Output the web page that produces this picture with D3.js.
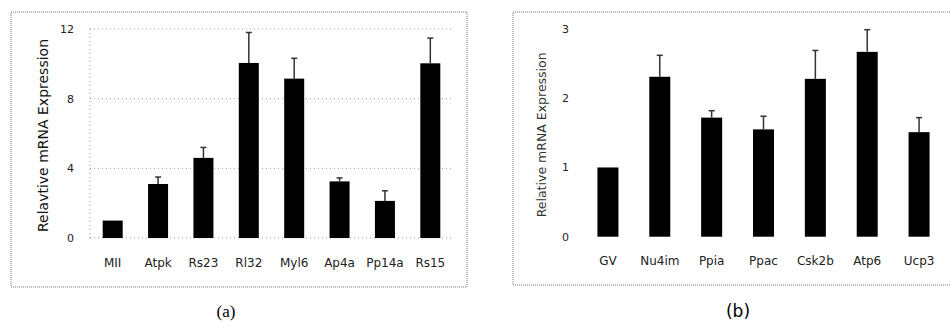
<!DOCTYPE html>
<html>
<head>
<meta charset="utf-8">
<script src="https://cdn.jsdelivr.net/npm/d3@7"></script>
<style>
  body { margin: 0; background: white; }
  svg { display: block; }
</style>
</head>
<body>
<script>
/*** Data ***/

// panel (a)
let genesA = ['MII', 'Atpk', 'Rs23', 'Rl32', 'Myl6', 'Ap4a', 'Pp14a', 'Rs15']
let meanA = [1.0, 3.1, 4.6, 10.05, 9.15, 3.25, 2.13, 10.03]
let errA = [0, 0.4, 0.6, 1.75, 1.17, 0.2, 0.58, 1.45]
let ticksA = [0, 4, 8, 12]

// panel (b)
let genesB = ['GV', 'Nu4im', 'Ppia', 'Ppac', 'Csk2b', 'Atp6', 'Ucp3']
let meanB = [1.0, 2.31, 1.72, 1.55, 2.28, 2.67, 1.51]
let errB = [0, 0.31, 0.1, 0.19, 0.41, 0.32, 0.21]
let ticksB = [0, 1, 2, 3]

const svgWidth = 951
const svgHeight = 324

let svg = d3.select('body')
    .append('svg')
    .attr('width', svgWidth)
    .attr('height', svgHeight)

const sans = "'DejaVu Sans', sans-serif"

function drawPanel(opt) {
    let rows = opt.genes.map((g, i) => ({gene: g, mean: opt.mean[i], err: opt.err[i]}))

    // dotted outer frame
    svg.append('rect')
        .attr('x', opt.frame[0]).attr('y', opt.frame[1])
        .attr('width', opt.frame[2]).attr('height', opt.frame[3])
        .attr('fill', 'none')
        .attr('stroke', '#777')
        .attr('stroke-width', 1)
        .attr('stroke-dasharray', '1,1')

    let yScale = d3.scaleLinear()
        .domain([0, opt.max])
        .range([opt.bottom, opt.top])

    let xScale = d3.scaleBand()
        .domain(opt.genes)
        .range([opt.left, opt.right])

    // gridlines
    if (opt.grid) {
        svg.append('g')
            .selectAll('line')
            .data(opt.ticks.filter(t => t > 0))
            .enter()
            .append('line')
            .attr('x1', opt.left).attr('x2', opt.right)
            .attr('y1', d => yScale(d)).attr('y2', d => yScale(d))
            .attr('stroke', '#999')
            .attr('stroke-dasharray', '1,3')
        svg.append('line')
            .attr('x1', opt.left).attr('x2', opt.left)
            .attr('y1', opt.top).attr('y2', opt.bottom)
            .attr('stroke', '#999')
            .attr('stroke-dasharray', '1,3')
        svg.append('line')
            .attr('x1', opt.left).attr('x2', opt.right)
            .attr('y1', opt.bottom).attr('y2', opt.bottom)
            .attr('stroke', '#999')
            .attr('stroke-dasharray', '1,3')
    }

    // y axis (labels only)
    let leftAxis = d3.axisLeft(yScale)
        .tickValues(opt.ticks)
        .tickFormat(d3.format('d'))
        .tickSize(0)
        .tickPadding(opt.tickPad)
    let yAxis = svg.append('g')
        .attr('transform', `translate(${opt.left}, 0)`)
        .call(leftAxis)
    yAxis.select('path').remove()
    yAxis.selectAll('text')
        .style('font-family', sans)
        .style('font-size', '11px')
        .attr('fill', '#222')

    // bars
    let bw = opt.barWidth
    svg.append('g')
        .selectAll('rect')
        .data(rows)
        .enter()
        .append('rect')
        .attr('x', d => xScale(d.gene) + xScale.bandwidth() / 2 - bw / 2)
        .attr('y', d => yScale(d.mean))
        .attr('width', bw)
        .attr('height', d => opt.bottom - yScale(d.mean))
        .attr('fill', 'black')

    // error bars (upper only)
    let eb = svg.append('g')
        .selectAll('g')
        .data(rows.filter(d => d.err > 0))
        .enter()
        .append('g')
    eb.append('line')
        .attr('x1', d => xScale(d.gene) + xScale.bandwidth() / 2)
        .attr('x2', d => xScale(d.gene) + xScale.bandwidth() / 2)
        .attr('y1', d => yScale(d.mean))
        .attr('y2', d => yScale(d.mean + d.err))
        .attr('stroke', '#333')
        .attr('stroke-width', 1.5)
    eb.append('line')
        .attr('x1', d => xScale(d.gene) + xScale.bandwidth() / 2 - 3)
        .attr('x2', d => xScale(d.gene) + xScale.bandwidth() / 2 + 3)
        .attr('y1', d => yScale(d.mean + d.err))
        .attr('y2', d => yScale(d.mean + d.err))
        .attr('stroke', '#333')
        .attr('stroke-width', 1.5)

    // x labels
    let bottomAxis = d3.axisBottom(xScale)
        .tickSize(0)
        .tickPadding(opt.xPad)
    let xAxis = svg.append('g')
        .attr('transform', `translate(0, ${opt.bottom})`)
        .call(bottomAxis)
    xAxis.select('path').remove()
    xAxis.selectAll('text')
        .style('font-family', sans)
        .style('font-size', '12px')
        .attr('fill', '#222')

    // y axis title
    svg.append('text')
        .attr('transform', `translate(${opt.titleX}, ${(opt.top + opt.bottom) / 2 + 2}) rotate(-90)`)
        .style('text-anchor', 'middle')
        .style('font-family', sans)
        .style('font-size', opt.titleSize)
        .attr('fill', opt.titleColor)
        .text(opt.title)

    // caption
    svg.append('text')
        .attr('x', opt.capX)
        .attr('y', 317)
        .style('text-anchor', 'middle')
        .style('font-family', opt.capFont)
        .style('font-size', '17px')
        .text(opt.caption)
}

drawPanel({
    genes: genesA, mean: meanA, err: errA, ticks: ticksA, max: 12,
    frame: [11, 12, 456, 275],
    left: 90, right: 453, top: 29, bottom: 238,
    barWidth: 20, grid: true, tickPad: 16, xPad: 20,
    title: 'Relavtive mRNA Expression', titleX: 48, titleSize: '14px', titleColor: '#111',
    caption: '(a)', capX: 226, capFont: "'Liberation Serif', serif"
})

drawPanel({
    genes: genesB, mean: meanB, err: errB, ticks: ticksB, max: 3,
    frame: [513, 12, 440, 273],
    left: 582, right: 945, top: 29, bottom: 236.7,
    barWidth: 21, grid: false, tickPad: 13, xPad: 20,
    title: 'Relative mRNA Expression', titleX: 546, titleSize: '12.5px', titleColor: '#333',
    caption: '(b)', capX: 738, capFont: "'DejaVu Sans', sans-serif"
})
</script>
</body>
</html>
